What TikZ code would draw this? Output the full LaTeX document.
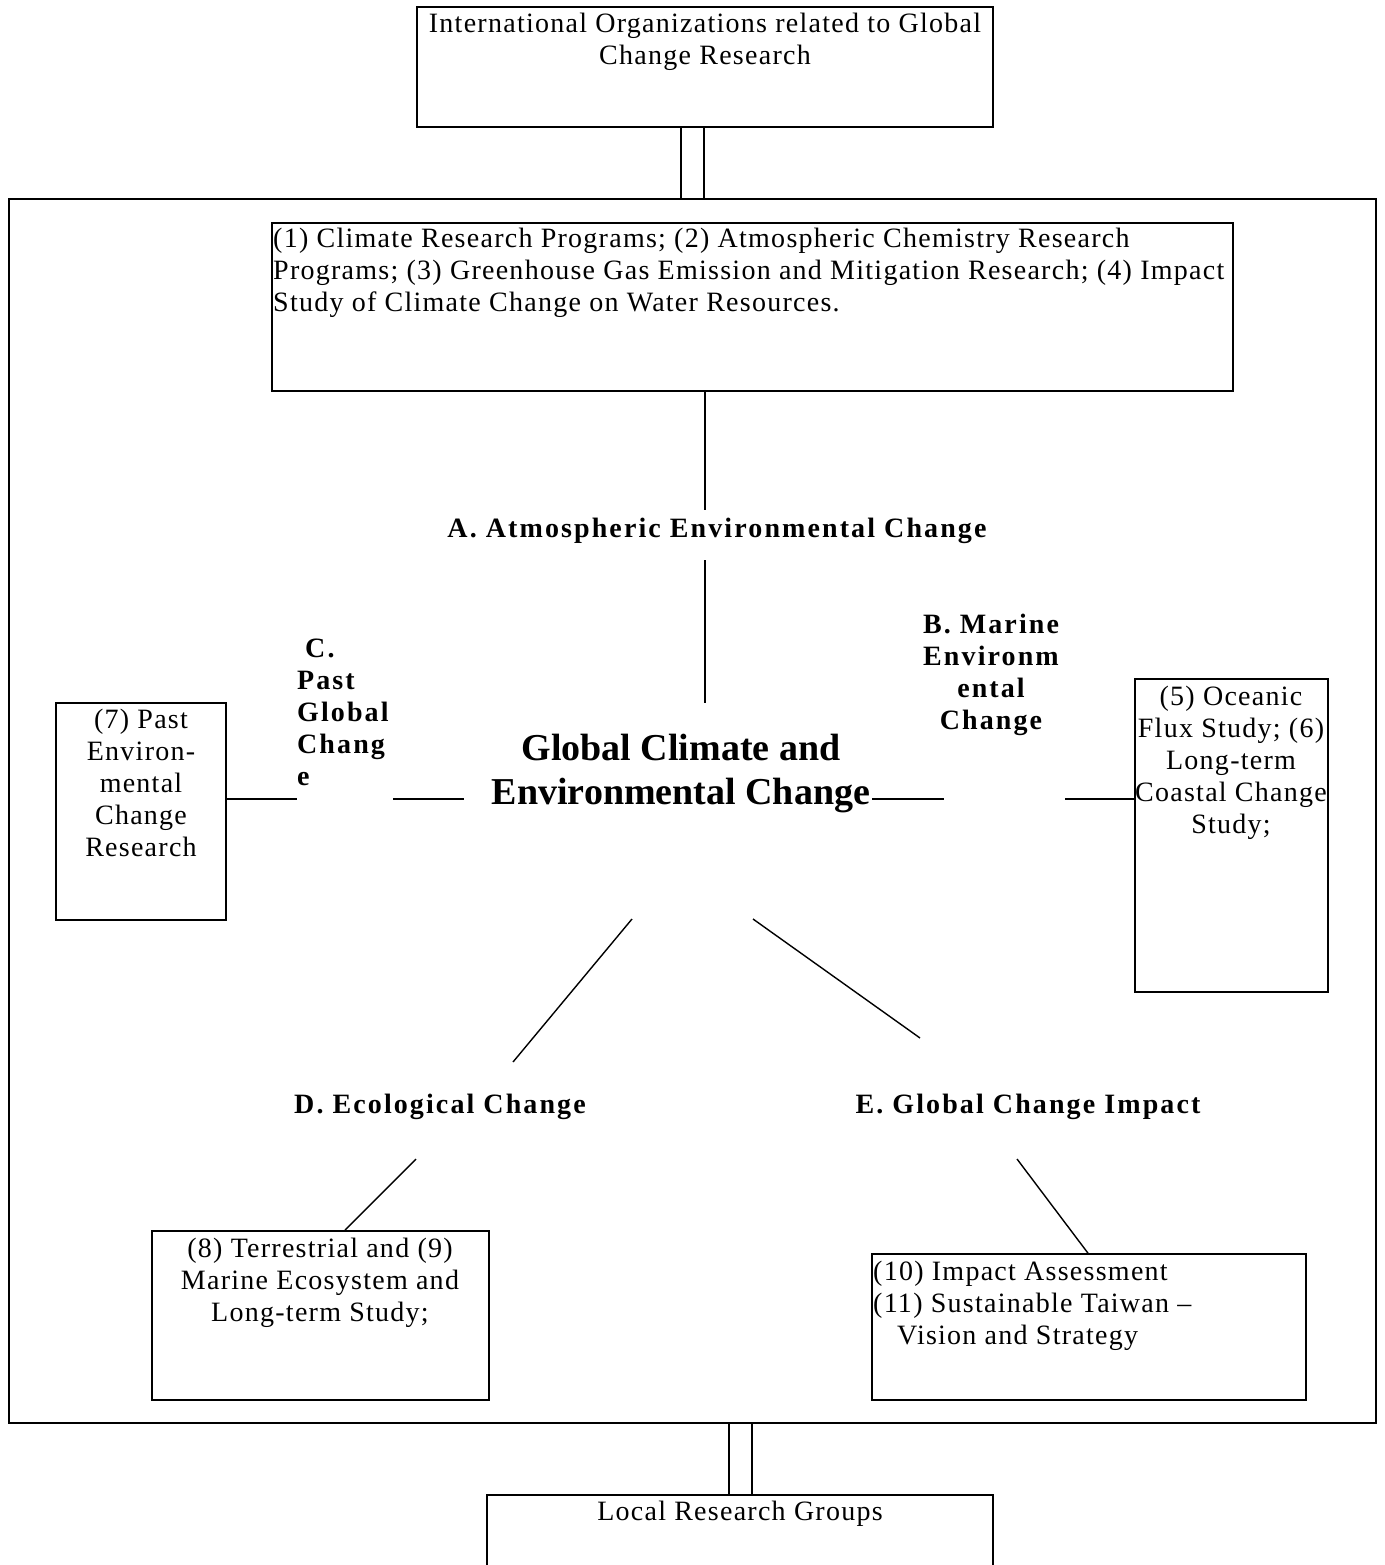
\documentclass[tikz,border=0pt]{standalone}
\usepackage{fontspec}
\setmainfont{Liberation Serif}
\newfontfamily\bodyf{Liberation Serif}[LetterSpace=4.5]
\newfontfamily\lblf{Liberation Serif}[LetterSpace=7.5]
\newfontfamily\ctrf{Liberation Serif}
\usetikzlibrary{fit}
\newcommand{\myst}[1]{\rule{0pt}{#1pt}}
\tikzset{
  boxs/.style={draw, line width=1.6pt, inner sep=0pt},
  framebox/.style={draw, line width=2pt, inner sep=0pt},
  ln/.style={line width=1.4pt},
  body/.style={inner sep=0pt, align=center, anchor=north, font=\bodyf\fontsize{28}{32}\selectfont},
  bodyl/.style={inner sep=0pt, align=left, anchor=north west, font=\bodyf\fontsize{28}{32}\selectfont},
  lbl/.style={inner sep=0pt, align=center, anchor=north, font=\lblf\bfseries\fontsize{28}{32}\selectfont},
  lbll/.style={inner sep=0pt, align=left, anchor=north west, font=\lblf\bfseries\fontsize{28}{32}\selectfont},
  ctr/.style={inner sep=0pt, align=center, anchor=north, font=\ctrf\bfseries\fontsize{38}{44}\selectfont}
}
\begin{document}
\begin{tikzpicture}[x=1pt,y=-1pt]
\useasboundingbox[fill=white] (0,0) rectangle (1384,1565);
% boxes
\node[boxs, fit={(417,7) (993,127)}] (top) {};
\node[framebox, fit={(9,199) (1376,1423)}] (frame) {};
\node[boxs, fit={(272,223) (1233,391)}] (box1) {};
\node[boxs, fit={(56,703) (226,920)}] (box7) {};
\node[boxs, fit={(1135,679) (1328,992)}] (box56) {};
\node[boxs, fit={(152,1231) (489,1400)}] (box89) {};
\node[boxs, fit={(872,1254) (1306,1400)}] (box1011) {};
\node[boxs, fit={(487,1495) (993,1620)}] (local) {};
% texts
\node[body] (ttop) at (705,10) {\myst{22}International Organizations related to Global\\Change Research};
\node[bodyl] (t1) at (273,225) {\myst{22}(1) Climate Research Programs; (2) Atmospheric Chemistry Research\\Programs; (3) Greenhouse Gas Emission and Mitigation Research; (4) Impact\\Study of Climate Change on Water Resources.};
\node[lbl] (la) at (717,515) {\myst{22}A. Atmospheric Environmental Change};
\node[lbl] (lb) at (991,611) {\myst{22}B. Marine\\Environm\\ental\\Change};
\node[lbll] (lc) at (297,635) {\myst{22}\hspace*{8pt}C.\\Past\\Global\\Chang\\e};
\node[ctr] (gc) at (681,728) {\myst{32}Global Climate and\\Environmental Change};
\node[body] (t7) at (141,706) {\myst{22}(7) Past\\Environ-\\mental\\Change\\Research};
\node[body] (t56) at (1231,683) {\myst{22}(5) Oceanic\\Flux Study; (6)\\Long-term\\Coastal Change\\Study;};
\node[lbl] (ld) at (440,1091) {\myst{22}D. Ecological Change};
\node[lbl] (le) at (1028,1091) {\myst{22}E. Global Change Impact};
\node[body] (t89) at (320,1235) {\myst{22}(8) Terrestrial and (9)\\Marine Ecosystem and\\Long-term Study;};
\node[bodyl] (t1011) at (873,1258) {\myst{22}(10) Impact Assessment\\(11) Sustainable Taiwan –\\\hspace*{24pt}Vision and Strategy};
\node[body] (tloc) at (740,1498) {\myst{22}Local Research Groups};
% helper coordinates
\coordinate (dl1) at (681,0);
\coordinate (dl2) at (704,0);
\coordinate (dm1) at (729,0);
\coordinate (dm2) at (752,0);
\coordinate (aT) at (705,510);
\coordinate (aB1) at (705,560);
\coordinate (aB2) at (705,703);
\coordinate (cy) at (0,799);
\coordinate (cL1) at (297,799);
\coordinate (cL2) at (393,799);
\coordinate (cL3) at (464,799);
\coordinate (cR1) at (872,799);
\coordinate (cR2) at (944,799);
\coordinate (cR3) at (1065,799);
\coordinate (dg1) at (632,919);
\coordinate (dg2) at (513,1062);
\coordinate (eg1) at (753,919);
\coordinate (eg2) at (920,1038);
\coordinate (dd1) at (416,1159);
\coordinate (dd2) at (345,0);
\coordinate (ee1) at (1017,1159);
\coordinate (ee2) at (1088,0);
% connectors
\draw[ln] (top.south -| dl1) -- (frame.north -| dl1);
\draw[ln] (top.south -| dl2) -- (frame.north -| dl2);
\draw[ln] (frame.south -| dm1) -- (local.north -| dm1);
\draw[ln] (frame.south -| dm2) -- (local.north -| dm2);
\draw[ln] (box1.south -| aT) -- (aT);
\draw[ln] (aB1) -- (aB2);
\draw[ln] (box7.east |- cy) -- (cL1);
\draw[ln] (cL2) -- (cL3);
\draw[ln] (cR1) -- (cR2);
\draw[ln] (cR3) -- (box56.west |- cy);
\draw[ln] (dg1) -- (dg2);
\draw[ln] (eg1) -- (eg2);
\draw[ln] (dd1) -- (box89.north -| dd2);
\draw[ln] (ee1) -- (box1011.north -| ee2);
\end{tikzpicture}
\end{document}
